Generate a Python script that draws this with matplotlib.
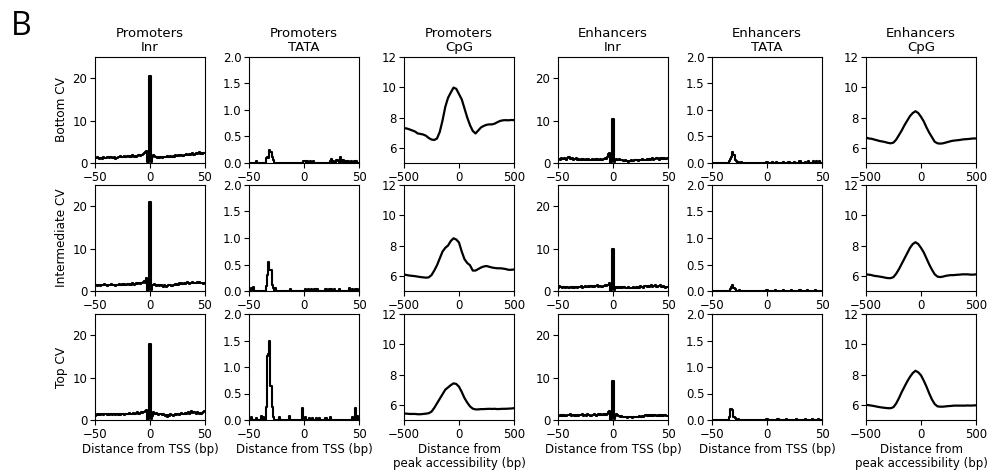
import numpy as np
import matplotlib
matplotlib.use("Agg")
import matplotlib.pyplot as plt

# ---------------- data ----------------
col_titles = ["Promoters\nInr", "Promoters\nTATA", "Promoters\nCpG",
              "Enhancers\nInr", "Enhancers\nTATA", "Enhancers\nCpG"]
row_labels = ["Bottom CV", "Intermediate CV", "Top CV"]

tss_pos = np.arange(-50, 51)          # bp positions for Inr / TATA
peak_pos = np.arange(-500, 501, 25)   # bp positions for CpG

# Inr frequencies (x = -50 .. 50)
prom_inr_bottom = [1.2,1.1,1.3,1.2,1.0,1.1,1.2,1.0,1.3,1.2,
                   1.1,1.3,1.4,1.2,1.5,1.3,1.2,1.1,1.4,1.0,
                   1.2,1.5,1.3,1.6,1.4,1.5,1.3,1.7,1.4,1.5,
                   1.6,1.4,1.7,1.5,1.8,1.6,1.4,1.7,1.5,1.6,
                   1.8,1.7,1.9,2.0,2.2,2.4,2.6,2.9,0.2,0.3,
                   20.6,
                   0.3,1.4,1.9,1.6,1.3,1.5,1.2,1.4,1.1,1.3,
                   1.2,1.4,1.3,1.5,1.3,1.6,1.4,1.5,1.7,1.5,
                   1.6,1.4,1.8,1.6,1.7,1.9,1.6,1.8,2.0,1.7,
                   1.9,1.8,2.1,1.9,2.0,2.2,1.9,2.1,2.3,2.0,
                   2.2,2.4,2.1,2.3,2.5,2.2,2.4,2.1,2.3,2.4]
prom_inr_inter = [1.3,1.4,1.2,1.5,1.3,1.2,1.4,1.5,1.3,1.6,
                  1.4,1.2,1.5,1.3,1.4,1.6,1.3,1.5,1.4,1.2,
                  1.5,1.3,1.6,1.4,1.5,1.7,1.4,1.6,1.5,1.3,
                  1.6,1.4,1.7,1.5,1.8,1.6,1.5,1.7,1.9,1.6,
                  1.8,1.7,2.0,1.9,2.2,2.4,2.0,3.0,0.1,0.2,
                  21.0,
                  0.2,1.5,1.3,1.6,1.4,1.2,1.5,1.3,1.1,1.4,
                  1.2,1.0,1.3,1.1,1.0,1.2,1.4,1.3,1.5,1.2,
                  1.4,1.3,1.6,1.4,1.7,1.5,1.8,1.6,2.0,1.7,
                  1.9,1.6,1.8,2.1,1.9,1.7,2.0,1.8,2.2,1.9,
                  2.0,1.8,2.1,1.9,2.2,2.0,1.8,1.9,1.7,1.8]
prom_inr_top = [1.0,1.2,1.3,1.1,1.4,1.2,1.3,1.5,1.2,1.3,
                1.4,1.2,1.3,1.1,1.3,1.4,1.2,1.3,1.5,1.2,
                1.3,1.1,1.4,1.2,1.3,1.5,1.4,1.2,1.5,1.3,
                1.4,1.6,1.3,1.5,1.4,1.7,1.5,1.4,1.6,1.8,
                1.5,1.7,1.9,1.6,2.0,1.8,2.2,2.3,0.1,0.2,
                18.0,
                0.2,1.0,1.8,1.5,1.3,1.6,1.4,1.2,1.5,1.3,
                1.1,1.4,1.2,0.9,1.1,0.8,1.2,1.0,1.3,1.1,
                1.0,1.2,1.4,1.1,1.3,1.5,1.2,1.4,1.6,1.3,
                1.5,1.7,1.4,1.6,1.8,1.5,1.7,2.1,1.6,1.9,
                1.7,1.5,1.8,1.6,1.4,1.7,1.5,1.6,1.8,2.2]
enh_inr_bottom = [0.9,1.0,0.8,1.1,0.9,1.0,1.2,1.0,0.8,1.1,
                  1.3,1.0,0.9,1.1,0.8,1.0,0.9,1.1,0.8,0.9,
                  0.8,1.0,0.7,0.9,0.8,0.7,0.9,0.8,1.0,0.7,
                  0.8,0.9,0.7,0.8,1.0,0.8,0.9,0.7,0.8,0.9,
                  0.8,1.0,0.9,1.1,1.0,1.3,2.2,2.3,0.1,0.3,
                  10.3,
                  0.3,0.6,1.0,0.8,0.7,0.9,0.6,0.8,0.7,0.5,
                  0.6,0.4,0.5,0.3,0.5,0.4,0.6,0.4,0.5,0.7,
                  0.6,0.7,0.5,0.8,0.6,0.7,0.9,0.7,0.8,0.6,
                  0.9,0.8,1.0,0.7,0.9,1.1,0.8,1.0,0.9,1.1,
                  1.0,0.8,1.1,0.9,1.2,1.0,1.1,0.9,1.0,1.2]
enh_inr_inter = [0.8,1.1,0.9,1.0,0.8,0.9,1.0,0.8,1.0,0.9,
                 0.8,1.0,0.9,0.7,0.9,0.8,1.0,0.9,0.8,1.0,
                 0.9,1.1,0.8,1.0,0.9,1.2,1.0,0.9,1.1,1.0,
                 1.2,1.0,1.1,0.9,1.2,1.1,1.3,1.0,1.2,1.1,
                 1.0,1.2,1.1,1.3,1.2,1.4,1.5,1.9,0.1,0.2,
                 10.0,
                 0.2,0.9,0.7,1.0,0.8,0.9,0.7,1.0,0.8,0.9,
                 0.7,0.8,0.6,0.9,0.7,0.8,0.6,0.7,0.9,0.8,
                 0.9,0.7,1.0,0.8,1.1,0.9,1.0,0.8,1.1,1.2,
                 1.0,1.2,0.9,1.1,1.3,1.0,1.2,1.1,1.3,1.0,
                 1.2,1.1,1.3,1.0,0.9,1.1,1.0,0.8,1.0,0.9]
enh_inr_top = [0.9,1.0,1.1,0.9,1.2,1.0,1.1,0.9,1.0,1.2,
               1.1,1.3,1.0,1.2,1.1,1.0,1.2,0.9,1.1,1.0,
               1.2,1.1,1.3,1.0,1.2,1.1,0.9,1.3,1.1,1.2,
               1.0,1.2,1.1,1.3,1.2,1.0,1.1,1.3,1.2,1.4,
               1.1,1.3,1.2,1.4,1.2,1.5,1.9,2.2,0.1,0.3,
               9.3,
               0.3,1.0,1.3,1.1,0.9,1.0,0.8,0.9,0.7,0.8,
               0.6,0.7,0.5,0.6,0.8,0.6,0.7,0.5,0.6,0.7,
               0.6,0.8,0.7,0.9,0.7,0.8,1.0,0.8,0.9,1.1,
               0.9,1.1,1.0,1.2,0.9,1.1,1.0,1.2,1.1,1.0,
               1.2,1.0,1.1,0.9,1.1,1.0,1.2,1.1,1.0,0.9]

# TATA frequencies: non-zero bins only (all other bins are 0)
prom_tata_bottom_pos = [-43,-34,-33,-32,-31,-30,-29,-28,0,1,3,6,9,24,25,27,30,31,33,34,36,38,40,43,46,48]
prom_tata_bottom_val = [0.04,0.10,0.12,0.10,0.25,0.20,0.12,0.05,0.04,0.04,0.04,0.04,0.03,0.04,0.07,0.03,0.06,0.04,0.12,0.05,0.05,0.04,0.04,0.03,0.04,0.03]
prom_tata_inter_pos = [-48,-46,-34,-33,-32,-31,-30,-29,-28,-26,-12,1,4,7,10,12,20,23,25,28,32,41,44,47,49]
prom_tata_inter_val = [0.05,0.08,0.10,0.30,0.55,0.40,0.40,0.12,0.05,0.05,0.03,0.03,0.04,0.03,0.03,0.03,0.03,0.04,0.03,0.03,0.03,0.05,0.04,0.04,0.03]
prom_tata_top_pos = [-48,-43,-39,-37,-34,-33,-32,-31,-30,-29,-28,-22,-13,-1,1,5,8,11,14,20,24,44,47,49]
prom_tata_top_val = [0.05,0.04,0.08,0.05,0.25,1.20,1.25,1.50,0.65,0.25,0.05,0.05,0.08,0.22,0.05,0.04,0.04,0.04,0.04,0.03,0.06,0.06,0.22,0.08]
enh_tata_bottom_pos = [-34,-33,-32,-31,-30,-29,-28,-26,-23,0,5,9,15,20,25,30,35,38,42,45,48]
enh_tata_bottom_val = [0.04,0.08,0.12,0.20,0.15,0.06,0.03,0.02,0.02,0.02,0.02,0.02,0.02,0.02,0.02,0.03,0.02,0.04,0.03,0.04,0.03]
enh_tata_inter_pos = [-33,-32,-31,-30,-29,-25,0,8,15,22,30,37,44]
enh_tata_inter_val = [0.04,0.08,0.12,0.06,0.03,0.02,0.02,0.02,0.02,0.02,0.02,0.02,0.02]
enh_tata_top_pos = [-34,-33,-32,-31,-30,-29,-26,0,10,18,27,35,41,47]
enh_tata_top_val = [0.05,0.20,0.20,0.18,0.06,0.03,0.02,0.02,0.02,0.02,0.02,0.02,0.02,0.02]

# CpG frequencies (x = -500 .. 500 step 25)
prom_cpg_bottom = [7.30,7.28,7.22,7.15,7.08,6.95,6.92,6.88,6.80,6.65,6.55,6.52,6.62,7.05,7.80,8.70,
                   9.30,9.65,9.98,9.90,9.55,9.20,8.60,8.00,7.50,7.12,6.95,7.15,7.35,7.45,7.52,
                   7.55,7.55,7.60,7.70,7.78,7.82,7.83,7.82,7.84,7.83]
prom_cpg_inter = [6.10,6.05,6.02,6.00,5.98,5.95,5.92,5.90,5.88,5.90,6.05,6.35,6.70,7.15,7.60,7.85,
                  8.00,8.30,8.48,8.40,8.20,7.60,7.10,6.85,6.70,6.35,6.35,6.45,6.55,6.62,6.65,
                  6.60,6.55,6.52,6.50,6.50,6.48,6.45,6.40,6.40,6.42]
prom_cpg_top = [5.42,5.42,5.40,5.40,5.40,5.38,5.38,5.40,5.42,5.45,5.55,5.80,6.10,6.40,6.70,7.00,
                7.15,7.30,7.42,7.38,7.20,6.85,6.45,6.15,5.90,5.75,5.70,5.70,5.72,5.72,5.73,
                5.74,5.73,5.74,5.72,5.73,5.74,5.74,5.75,5.76,5.78]
enh_cpg_bottom = [6.68,6.62,6.60,6.55,6.50,6.45,6.42,6.38,6.33,6.30,6.35,6.55,6.85,7.15,7.50,7.80,
                  8.10,8.30,8.42,8.30,8.05,7.75,7.35,7.00,6.70,6.40,6.30,6.28,6.30,6.35,6.40,
                  6.45,6.48,6.50,6.52,6.55,6.57,6.58,6.60,6.62,6.62]
enh_cpg_inter = [6.10,6.08,6.05,6.00,5.98,5.95,5.92,5.88,5.85,5.85,5.92,6.15,6.45,6.80,7.15,7.50,
                 7.85,8.10,8.22,8.10,7.85,7.55,7.15,6.75,6.40,6.10,5.95,5.92,5.95,6.00,6.03,
                 6.05,6.05,6.07,6.08,6.10,6.10,6.10,6.08,6.08,6.10]
enh_cpg_top = [6.00,5.98,5.95,5.92,5.88,5.85,5.82,5.80,5.78,5.78,5.85,6.10,6.45,6.85,7.20,7.55,
               7.85,8.10,8.25,8.15,7.95,7.60,7.20,6.75,6.35,6.05,5.90,5.88,5.88,5.90,5.92,
               5.93,5.95,5.95,5.95,5.95,5.95,5.96,5.95,5.96,5.97]

inr_yticks = [0, 10, 20]
tata_yticks = [0.0, 0.5, 1.0, 1.5, 2.0]
cpg_yticks = [6, 8, 10, 12]


def tata_series(pos, val):
    arr = np.zeros(len(tss_pos))
    for p, v in zip(pos, val):
        arr[p + 50] = v
    return arr


grid = [
    [("inr", prom_inr_bottom), ("tata", tata_series(prom_tata_bottom_pos, prom_tata_bottom_val)),
     ("cpg", prom_cpg_bottom), ("inr", enh_inr_bottom),
     ("tata", tata_series(enh_tata_bottom_pos, enh_tata_bottom_val)), ("cpg", enh_cpg_bottom)],
    [("inr", prom_inr_inter), ("tata", tata_series(prom_tata_inter_pos, prom_tata_inter_val)),
     ("cpg", prom_cpg_inter), ("inr", enh_inr_inter),
     ("tata", tata_series(enh_tata_inter_pos, enh_tata_inter_val)), ("cpg", enh_cpg_inter)],
    [("inr", prom_inr_top), ("tata", tata_series(prom_tata_top_pos, prom_tata_top_val)),
     ("cpg", prom_cpg_top), ("inr", enh_inr_top),
     ("tata", tata_series(enh_tata_top_pos, enh_tata_top_val)), ("cpg", enh_cpg_top)],
]

# ---------------- figure ----------------
W, H = 988, 471
fig = plt.figure(figsize=(W / 100, H / 100), dpi=100)

col_left = [95, 249, 404, 558, 712, 866]
row_top = [57, 185, 314]
aw, ah = 110, 106

FS = 8.5
for r in range(3):
    for c in range(6):
        kind, data = grid[r][c]
        ax = fig.add_axes([col_left[c] / W, 1 - (row_top[r] + ah) / H, aw / W, ah / H])
        if kind == "inr":
            ax.step(tss_pos, data, where="mid", color="black", lw=1.5)
            ax.set_xlim(-50, 50)
            ax.set_ylim(0, 25)
            ax.set_yticks(inr_yticks)
            ax.set_xticks([-50, 0, 50])
            xl = "Distance from TSS (bp)"
        elif kind == "tata":
            ax.step(tss_pos, data, where="mid", color="black", lw=1.5)
            ax.set_xlim(-50, 50)
            ax.set_ylim(0, 2.0)
            ax.set_yticks(tata_yticks)
            ax.set_xticks([-50, 0, 50])
            xl = "Distance from TSS (bp)"
        else:
            ax.plot(peak_pos, data, color="black", lw=1.6)
            ax.set_xlim(-500, 500)
            ax.set_ylim(5, 12)
            ax.set_yticks(cpg_yticks)
            ax.set_xticks([-500, 0, 500])
            xl = "Distance from\npeak accessibility (bp)"
        ax.tick_params(labelsize=FS, length=3.5, width=0.8, pad=2)
        for s in ax.spines.values():
            s.set_linewidth(0.8)
        if r == 0:
            ax.set_title(col_titles[c], fontsize=9.5, pad=4, linespacing=1.1)
        if r == 2:
            ax.set_xlabel(xl, fontsize=FS, labelpad=2, linespacing=1.1)
        if c == 0:
            ax.set_ylabel(row_labels[r], fontsize=8.7, labelpad=3)

fig.text(11 / W, 1 - 10 / H, "B", fontsize=23, family="Open Sans", va="top", ha="left")

fig.savefig("out.png", dpi=100)
